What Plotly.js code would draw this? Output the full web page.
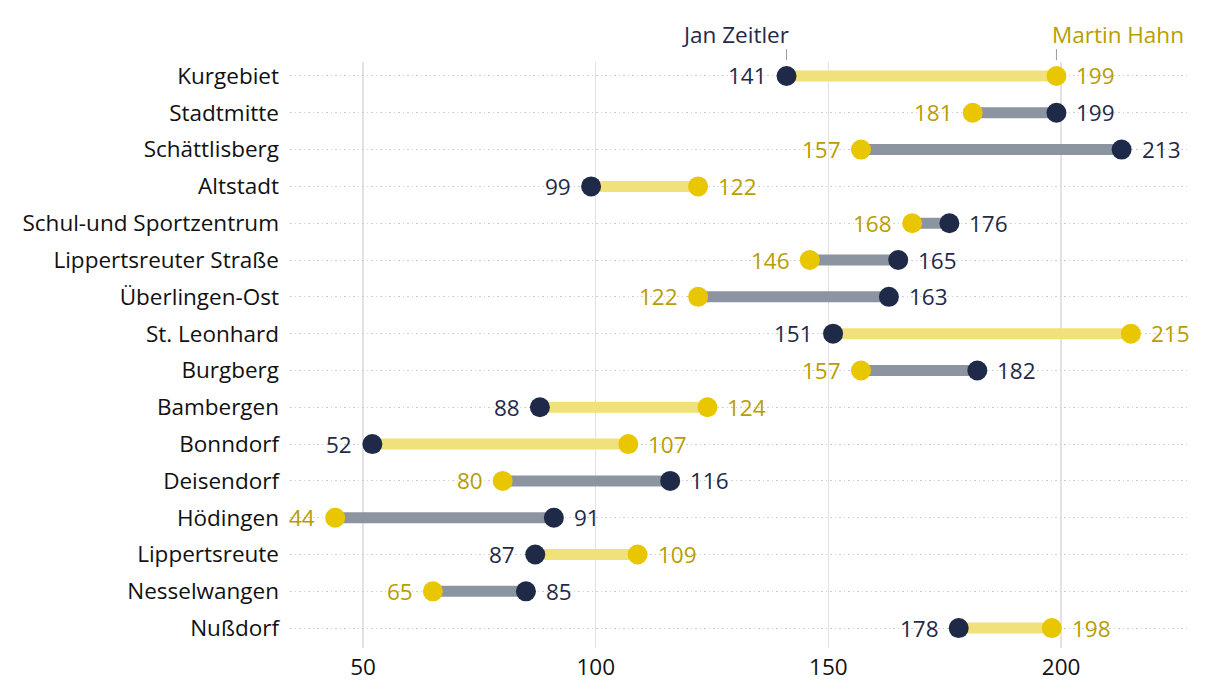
<!DOCTYPE html>
<html>
<head>
<meta charset="utf-8">
<script src="https://cdn.plot.ly/plotly-3.0.1.min.js"></script>
<style>html,body{margin:0;padding:0;background:#fff;}#chart{width:1220px;height:694px;}</style>
</head>
<body>
<div id="chart"></div>
<script>
const categories = ["Kurgebiet","Stadtmitte","Schättlisberg","Altstadt","Schul-und Sportzentrum","Lippertsreuter Straße","Überlingen-Ost","St. Leonhard","Burgberg","Bambergen","Bonndorf","Deisendorf","Hödingen","Lippertsreute","Nesselwangen","Nußdorf"];
const zeitler = [141,199,213,99,176,165,163,151,182,88,52,116,91,87,85,178];
const hahn    = [199,181,157,122,168,146,122,215,157,124,107,80,44,109,65,198];
const candidateNames = ["Jan Zeitler","Martin Hahn"];
const tickValues = [50,100,150,200];

const NAVY = "#1f2a48";
const YELLOW = "#e8c600";
const YELLOW_TEXT = "#b89d00";
const YELLOW_LINE = "#f1e17a";
const GRAY_LINE = "#8c93a1";
const FONT = "'Open Sans', sans-serif";
const FS = 22.5;

const traces = [];
categories.forEach((c, i) => {
  const hahnWins = hahn[i] > zeitler[i];
  traces.push({
    type: "scatter", mode: "lines",
    x: [zeitler[i], hahn[i]], y: [c, c],
    line: {color: hahnWins ? YELLOW_LINE : GRAY_LINE, width: 11},
    hoverinfo: "skip", showlegend: false
  });
});
traces.push({
  type: "scatter", mode: "markers",
  x: zeitler, y: categories,
  marker: {color: NAVY, size: 20},
  showlegend: false, cliponaxis: false, name: candidateNames[0]
});
traces.push({
  type: "scatter", mode: "markers",
  x: hahn, y: categories,
  marker: {color: YELLOW, size: 20},
  showlegend: false, cliponaxis: false, name: candidateNames[1]
});

const annotations = [];
categories.forEach((c, i) => {
  const zLeft = zeitler[i] < hahn[i];
  annotations.push({xref: "x", yref: "y", x: zeitler[i], y: c,
    text: String(zeitler[i]), showarrow: false,
    xanchor: zLeft ? "right" : "left", yanchor: "middle",
    xshift: zLeft ? -18 : 18, yshift: 0,
    font: {family: FONT, size: FS, color: NAVY}});
  annotations.push({xref: "x", yref: "y", x: hahn[i], y: c,
    text: String(hahn[i]), showarrow: false,
    xanchor: zLeft ? "left" : "right", yanchor: "middle",
    xshift: zLeft ? 18 : -18, yshift: 0,
    font: {family: FONT, size: FS, color: YELLOW_TEXT}});
});
annotations.push(
  {xref: "x", yref: "paper", x: zeitler[0], y: 1.022, xanchor: "right", yanchor: "bottom", xshift: 4, yshift: -3,
   text: candidateNames[0], showarrow: false, font: {family: FONT, size: FS, color: NAVY}},
  {xref: "x", yref: "paper", x: hahn[0], y: 1.022, xanchor: "left", yanchor: "bottom", xshift: -6, yshift: -3,
   text: candidateNames[1], showarrow: false, font: {family: FONT, size: FS, color: YELLOW_TEXT}}
);

const layout = {
  width: 1220, height: 694,
  margin: {l: 290, r: 30, t: 62, b: 46},
  paper_bgcolor: "#fff", plot_bgcolor: "#fff",
  font: {family: FONT, size: FS, color: "#111"},
  xaxis: {
    range: [34.3, 227.7],
    tickvals: tickValues, ticktext: tickValues.map(String),
    showgrid: true, gridcolor: "#e2e2e2", gridwidth: 1.5,
    zeroline: false, showline: false, ticks: "",
    ticklabelstandoff: 3,
    tickfont: {family: FONT, size: FS, color: "#111"}
  },
  yaxis: {
    type: "category",
    categoryorder: "array", categoryarray: categories,
    range: [15.54, -0.38],
    showgrid: true, gridcolor: "#cfcfcf", griddash: "1.5px,3px", gridwidth: 1,
    zeroline: false, showline: false, ticks: "",
    ticklabelstandoff: 10,
    tickfont: {family: FONT, size: FS, color: "#111"}
  },
  shapes: [
    {type: "line", xref: "x", yref: "paper", x0: zeitler[0], x1: zeitler[0], y0: 1.003, y1: 1.022, line: {color: "#999", width: 1}},
    {type: "line", xref: "x", yref: "paper", x0: hahn[0], x1: hahn[0], y0: 1.003, y1: 1.022, line: {color: "#999", width: 1}}
  ],
  annotations: annotations
};

Plotly.newPlot("chart", traces, layout, {displayModeBar: false, staticPlot: true});
</script>
</body>
</html>
